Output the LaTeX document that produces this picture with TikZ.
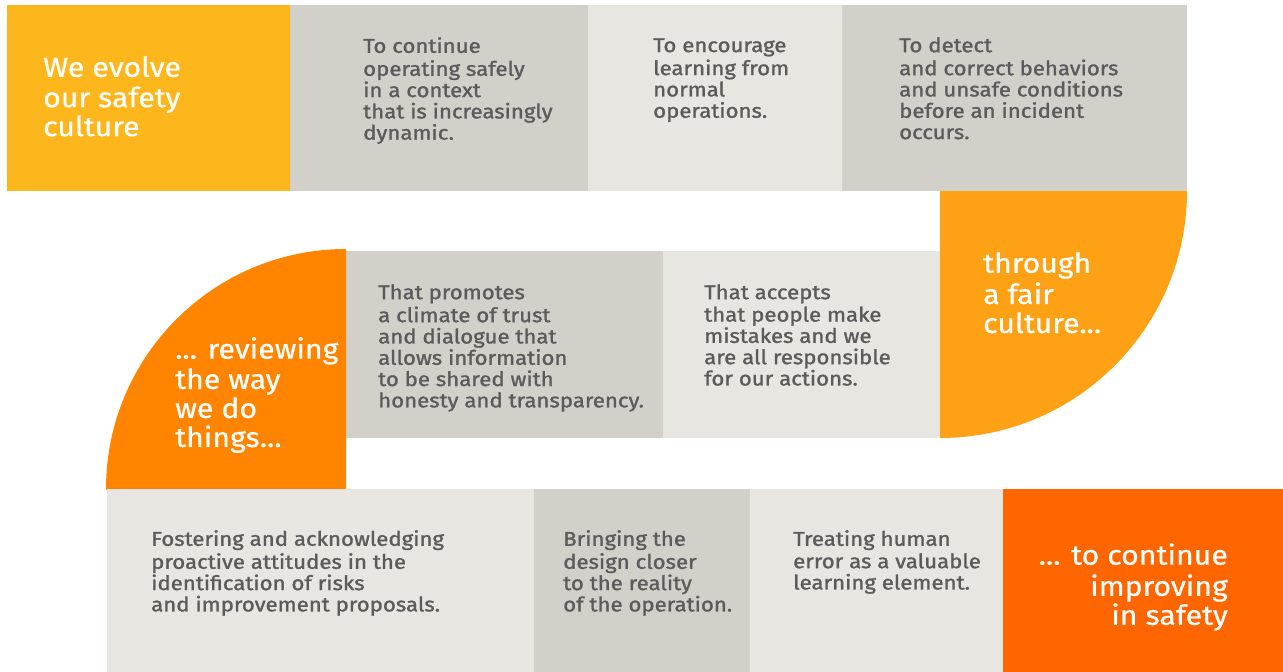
\documentclass[tikz,border=0pt]{standalone}
\usepackage{fontspec}
\setmainfont{Fira Sans}
\newfontfamily\bodyfont[FakeBold=1.3,FakeStretch=1.11]{Fira Sans}
\newfontfamily\titlefont[FakeBold=0.6,FakeStretch=1.1]{Fira Sans}
\definecolor{cyellow}{HTML}{FDB71C}
\definecolor{cgray}{HTML}{D3D0C9}
\definecolor{clight}{HTML}{E8E6E1}
\definecolor{corangeA}{HTML}{FFA114}
\definecolor{corangeB}{HTML}{FF8400}
\definecolor{cred}{HTML}{FF6600}
\definecolor{ctext}{HTML}{5B5B5B}
\tikzset{
  bodytext/.style={anchor=north west, inner sep=0pt, align=left, text=ctext,
    font=\bodyfont\fontsize{20}{21.3}\selectfont},
  titletext/.style={anchor=north west, inner sep=0pt, align=left, text=white,
    font=\titlefont\fontsize{27.5}{29}\selectfont},
}
\begin{document}
\begin{tikzpicture}[x=1pt,y=-1pt]
\fill[white] (0,0) rectangle (1283,672);
\useasboundingbox (0,0) rectangle (1283,672);
% row 1
\fill[cyellow] (7,5) rectangle (290,191);
\fill[cgray] (290,5) rectangle (588,191);
\fill[clight] (588,5) rectangle (842,191);
\fill[cgray] (842,5) rectangle (1187,191);
% right quarter circle
\begin{scope}
\clip (940,191) rectangle (1187,438);
\fill[corangeA] (940,191) circle[radius=247pt];
\end{scope}
% row 2
\fill[cgray] (346,251) rectangle (663,438);
\fill[clight] (663,251) rectangle (940,438);
% left quarter circle
\begin{scope}
\clip (106,249) rectangle (346,489);
\fill[corangeB] (346,489) circle[radius=240pt];
\end{scope}
% row 3
\fill[clight] (107,489) rectangle (534,672);
\fill[cgray] (534,489) rectangle (750,672);
\fill[clight] (750,489) rectangle (1003,672);
\fill[cred] (1003,489) rectangle (1283,672);

% texts
\node[titletext] (t1) at (43,56) {\strut We evolve\\our safety\\culture};
\node[bodytext] (b1) at (363,37) {\strut To continue\\operating safely\\in a context\\that is increasingly\\dynamic.};
\node[bodytext] (b2) at (653,37) {\strut To encourage\\learning from\\normal\\operations.};
\node[bodytext] (b3) at (899,37) {\strut To detect\\and correct behaviors\\and unsafe conditions\\before an incident\\occurs.};
\node[titletext] (t2) at (983,252) {\strut through\\a fair\\culture...};
\node[bodytext] (b4) at (378,284) {\strut That promotes\\a climate of trust\\and dialogue that\\allows information\\to be shared with\\honesty and transparency.};
\node[bodytext] (b5) at (704,284) {\strut That accepts\\that people make\\mistakes and we\\are all responsible\\for our actions.};
\node[titletext] (t3) at (175,337) {\strut ... reviewing\\the way\\we do\\things...};
\node[bodytext] (b6) at (151,530) {\strut Fostering and acknowledging\\proactive attitudes in the\\identification of risks\\and improvement proposals.};
\node[bodytext] (b7) at (563,530) {\strut Bringing the\\design closer\\to the reality\\of the operation.};
\node[bodytext] (b8) at (793,530) {\strut Treating human\\error as a valuable\\learning element.};
\node[titletext, anchor=north east, align=right] (t4) at (1228,543) {\strut ... to continue\\improving\\in safety};
\end{tikzpicture}
\end{document}
